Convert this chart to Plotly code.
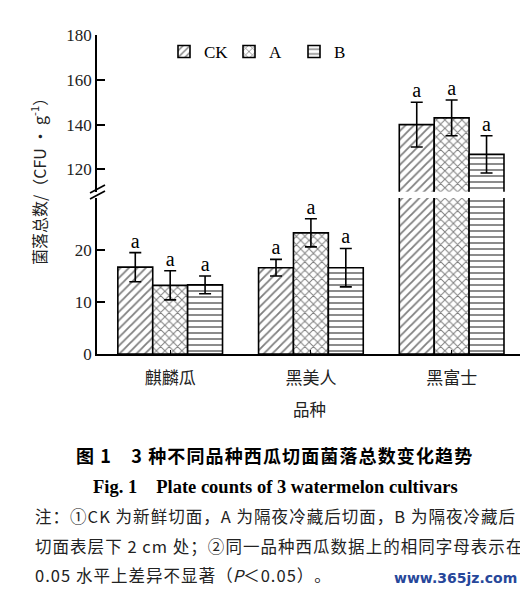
import plotly.graph_objects as go

# data
cultivars = ["麒麟瓜", "黑美人", "黑富士"]
treatments = ["CK", "A", "B"]
means = {
    "CK": [16.7, 16.6, 140.0],
    "A": [13.2, 23.3, 143.0],
    "B": [13.3, 16.6, 126.7],
}
errs = {
    "CK": [2.8, 1.6, 10.0],
    "A": [2.8, 2.7, 8.0],
    "B": [1.7, 3.7, 8.3],
}
letters = {
    "CK": ["a", "a", "a"],
    "A": ["a", "a", "a"],
    "B": ["a", "a", "a"],
}
low_ticks = [0, 10, 20]
high_ticks = [120, 140, 160, 180]

patterns = {"CK": "/", "A": "x", "B": "-"}

# page body has an 8px margin, so lay out in window pixels and shift
OFF = 8
W, H = 528 - OFF, 594 - OFF
ml, mr, mt, mb = 97 - OFF, 6, 35 - OFF, 240
plot_w = W - ml - mr
plot_h = H - mt - mb
low_rng = [0, 30]
high_rng = [110, 180]
bw = 0.248


def py(ypx):
    # window pixel row -> paper y
    return (H - mb - (ypx - OFF)) / plot_h


def px(xpx):
    return (xpx - OFF - ml) / plot_w


def spread(s):
    # hair spaces between glyphs, the printed notes are justified
    return "\u200a".join(s)


serif = "Liberation Serif, Times New Roman, serif"
cjk = "Noto Sans CJK SC, sans-serif"

fig = go.Figure()
for k, t in enumerate(treatments):
    xs = [i + (k - 1) * bw for i in range(len(cultivars))]
    for yax, rng in (("y", low_rng), ("y2", high_rng)):
        fig.add_trace(go.Bar(
            x=xs, y=means[t], width=bw, yaxis=yax, name=t,
            showlegend=(yax == "y"),
            marker=dict(color="white", line=dict(color="black", width=1.6),
                        pattern=dict(shape=patterns[t], fgcolor="black",
                                     bgcolor="white", size=6, solidity=0.3)),
            error_y=dict(type="data", array=errs[t], color="black",
                         thickness=1.6, width=6),
            hoverinfo="skip",
        ))
        # significance letters in the part of the axis that holds them
        lx, ly, lt = [], [], []
        for i in range(len(cultivars)):
            top = means[t][i] + errs[t][i]
            if rng[0] < means[t][i] < rng[1]:
                lx.append(xs[i]); ly.append(top); lt.append(letters[t][i])
        fig.add_trace(go.Scatter(
            x=lx, y=ly, text=lt, mode="text", yaxis=yax,
            textposition="top center", showlegend=False, cliponaxis=False,
            textfont=dict(family=serif, size=20, color="black"),
            hoverinfo="skip",
        ))

low_dom = [0, (low_rng[1] - low_rng[0]) * 5.2 / plot_h]
high_dom = [1 - (high_rng[1] - high_rng[0]) * 2.24 / plot_h, 1]

fig.update_layout(
    width=W, height=H, margin=dict(l=ml, r=mr, t=mt, b=mb),
    plot_bgcolor="white", paper_bgcolor="white",
    barmode="overlay",
    font=dict(family=serif, color="black"),
    xaxis=dict(
        range=[-0.52, 2.5], tickvals=list(range(len(cultivars))) + [2.5],
        ticktext=cultivars + [""], tickfont=dict(family=cjk, size=17, color="#222"),
        ticklabelstandoff=8,
        showline=True, linecolor="black", linewidth=1.6, mirror=False,
        ticks="inside", ticklen=4, tickcolor="black", showgrid=False,
        zeroline=False, anchor="y",
        title=dict(text="品种", font=dict(family=cjk, size=16.5, color="#222"),
                   standoff=16),
    ),
    yaxis=dict(
        domain=low_dom, range=low_rng, tickvals=low_ticks,
        showline=True, linecolor="black", linewidth=1.6,
        ticks="inside", ticklen=8, tickwidth=1.6, tickcolor="black",
        tickfont=dict(size=17, color="#222"), showgrid=False, zeroline=False,
    ),
    yaxis2=dict(
        domain=high_dom, range=high_rng, tickvals=high_ticks,
        showline=True, linecolor="black", linewidth=1.6,
        ticks="inside", ticklen=8, tickwidth=1.6, tickcolor="black",
        tickfont=dict(size=17, color="#222"), showgrid=False, zeroline=False,
        anchor="x",
    ),
    legend=dict(
        orientation="h", x=px(164), y=py(52), xanchor="left", yanchor="middle",
        font=dict(family=serif, size=17), bgcolor="rgba(0,0,0,0)",
        entrywidth=20, entrywidthmode="pixels", itemwidth=30,
    ),
)

# axis break marks
for yb in (189, 195):
    fig.add_shape(type="line", xref="paper", yref="paper",
                  x0=px(90), x1=px(105), y0=py(yb + 4), y1=py(yb - 4),
                  line=dict(color="black", width=1.6))

ann = [
    dict(text="菌落总数/（CFU • g<sup>-1</sup>）", x=px(38), y=py(178),
         textangle=-90, font=dict(family=cjk, size=16, color="#222")),
    dict(text="<b>" + spread("图 1　3 种不同品种西瓜切面菌落总数变化趋势") + "</b>",
         x=px(274), y=py(455), font=dict(family=cjk, size=18, color="black")),
    dict(text="<b>Fig. 1　Plate counts of 3 watermelon cultivars</b>", x=px(275), y=py(487),
         font=dict(family=serif, size=18.5, color="black")),
    dict(text=spread("注：①CK 为新鲜切面，A 为隔夜冷藏后切面，B 为隔夜冷藏后"),
         x=px(33), y=py(516), xanchor="left",
         font=dict(family=cjk, size=16.5, color="#222")),
    dict(text=spread("切面表层下 2 cm 处；②同一品种西瓜数据上的相同字母表示在"),
         x=px(33), y=py(546), xanchor="left",
         font=dict(family=cjk, size=16.5, color="#222")),
    dict(text=spread("0.05 水平上差异不显著（") + "<i>P</i>" + spread("＜0.05）。"),
         x=px(33), y=py(575), xanchor="left",
         font=dict(family=cjk, size=16.5, color="#222")),
    dict(text="<b>www.365jz.com</b>", x=px(519), y=py(578), xanchor="right",
         font=dict(family="DejaVu Sans, sans-serif", size=14, color="#27479a")),
]
for a in ann:
    a.setdefault("xanchor", "center")
    fig.add_annotation(xref="paper", yref="paper", showarrow=False,
                       yanchor="middle", **a)

fig.write_html("out.html")
